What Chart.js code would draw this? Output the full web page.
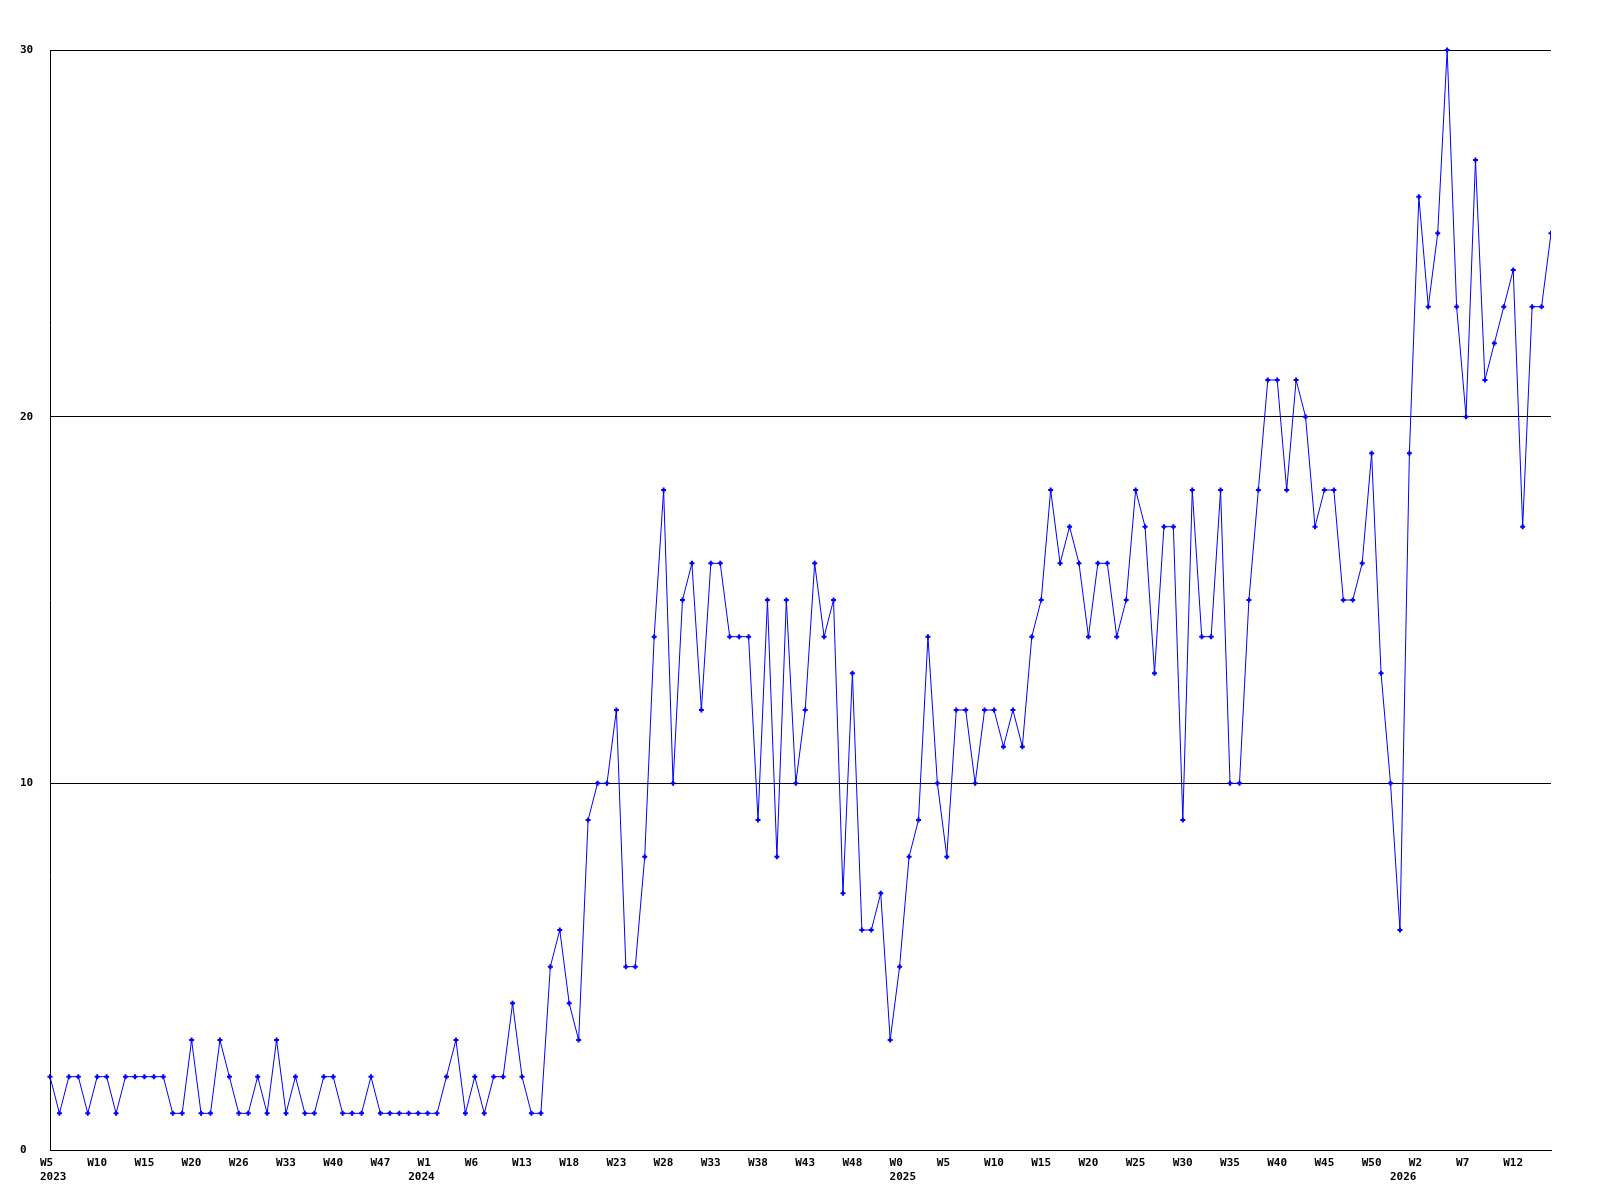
<!DOCTYPE html>
<html><head><meta charset="utf-8">
<script src="https://cdn.jsdelivr.net/npm/chart.js@4.4.1/dist/chart.umd.min.js"></script>
<style>html,body{margin:0;padding:0;background:#fff;} canvas{display:block;}</style>
</head><body>
<canvas id="c" width="1600" height="1200"></canvas>
<script>
const years = ['2023', '2024', '2025', '2026'];
const weeks2023 = [5,6,7,8,9,10,11,12,13,14,15,16,17,18,19,20,21,22,24,25,26,27,29,30,32,33,34,35,37,38,40,41,43,44,45,47,48,50,51];
const weeks2024 = [0,1,2,3,4,5,6,7,8,10,11,13,14,15,16,17,18,19,20,21,22,23,24,25,26,27,28,29,30,31,32,33,34,35,36,37,38,39,40,41,42,43,44,45,46,47,48,49,50,51,52];
const weeks2025 = [0,1,2,3,4,5,6,7,8,9,10,11,12,13,14,15,16,17,18,19,20,21,22,23,24,25,26,27,28,29,30,31,32,33,34,35,36,37,38,39,40,41,42,43,44,45,46,47,48,49,50,51,52];
const weeks2026 = [0,1,2,3,4,5,6,7,8,9,10,11,12,13,14,15,16];
const counts = [
  2,1,2,2,1, 2,2,1,2,2, 2,2,2,1,1, 3,1,1,3,2, 1,1,2,1,3, 1,2,1,1,2, 2,1,1,1,2, 1,1,1,1,1,
  1,1,2,3,1, 2,1,2,2,4, 2,1,1,5,6, 4,3,9,10,10, 12,5,5,8,14, 18,10,15,16,12, 16,16,14,14,14, 9,15,8,15,10,
  12,16,14,15,7, 13,6,6,7,3, 5,8,9,14,10, 8,12,12,10,12, 12,11,12,11,14, 15,18,16,17,16, 14,16,16,14,15, 18,17,13,17,17,
  9,18,14,14,18, 10,10,15,18,21, 21,18,21,20,17, 18,18,15,15,16, 19,13,10,6,19, 26,23,25,30,23, 20,27,21,22,23, 24,17,23,23,25
];
const yMin = 0, yMax = 30, yStep = 10;
const labelEvery = 5;

const weekLists = [weeks2023, weeks2024, weeks2025, weeks2026];
const categories = [], categoryYears = [];
weekLists.forEach((ws, k) => ws.forEach(w => { categories.push('W' + w); categoryYears.push(years[k]); }));

const font = { family: '"DejaVu Sans Mono", monospace', size: 11, weight: 'bold', lineHeight: 14 / 11 };

new Chart(document.getElementById('c'), {
  type: 'line',
  data: {
    labels: categories,
    datasets: [{
      data: counts,
      borderColor: '#0000ff',
      backgroundColor: '#0000ff',
      borderWidth: 1,
      tension: 0,
      fill: false,
      pointStyle: 'cross',
      pointRadius: 2.5,
      pointHoverRadius: 2.5,
      pointBorderWidth: 2,
      pointHoverBorderWidth: 2,
      clip: { left: 4, top: 4, right: 0, bottom: 4 }
    }]
  },
  options: {
    responsive: false,
    animation: false,
    devicePixelRatio: 1,
    layout: { padding: { left: 20, top: 50, right: 49, bottom: 0 } },
    plugins: { legend: { display: false }, tooltip: { enabled: false }, title: { display: false } },
    scales: {
      x: {
        type: 'category',
        grid: { display: false, drawTicks: false },
        border: { display: true, color: '#000', width: 1 },
        ticks: {
          autoSkip: false, maxRotation: 0, minRotation: 0,
          align: 'start', labelOffset: -10, padding: 6, color: '#000', font,
          callback: (v, i) => {
            const wk = i % labelEvery === 0 ? categories[i] : '';
            const first = i === 0 || categoryYears[i] !== categoryYears[i - 1];
            if (first) return [wk, categoryYears[i]];
            return wk || null;
          }
        },
        afterFit: s => { s.height = 50; }
      },
      y: {
        min: yMin, max: yMax,
        grid: { color: '#000', lineWidth: 1, drawTicks: false },
        border: { display: true, color: '#000', width: 1 },
        ticks: { stepSize: yStep, crossAlign: 'far', padding: 0, color: '#000', font },
        afterFit: s => { s.width = 30; }
      }
    }
  }
});
</script></body></html>
